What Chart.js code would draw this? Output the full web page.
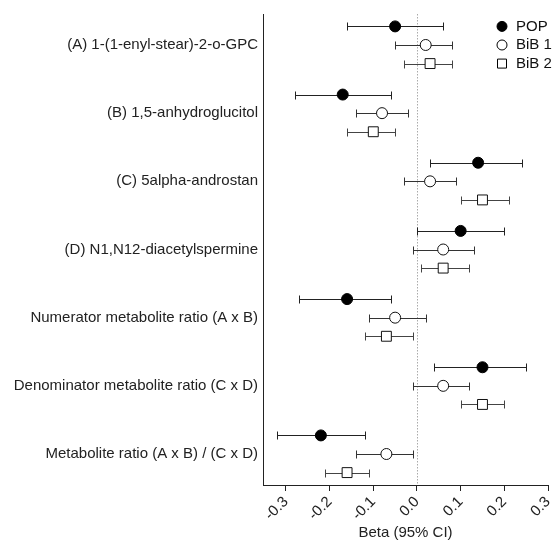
<!DOCTYPE html>
<html>
<head>
<meta charset="utf-8">
<script src="https://cdn.jsdelivr.net/npm/chart.js@4.4.0/dist/chart.umd.min.js"></script>
<style>
  body { margin: 0; background: #fff; }
</style>
</head>
<body>
<canvas id="myChart" width="557" height="545"></canvas>
<script>
var categories = [
  '(A) 1-(1-enyl-stear)-2-o-GPC',
  '(B) 1,5-anhydroglucitol',
  '(C) 5alpha-androstan',
  '(D) N1,N12-diacetylspermine',
  'Numerator metabolite ratio (A x B)',
  'Denominator metabolite ratio (C x D)',
  'Metabolite ratio (A x B) / (C x D)'
]
var cohorts = ['POP', 'BiB 1', 'BiB 2']

var popBeta = [-0.05, -0.17, 0.14, 0.10, -0.16, 0.15, -0.22]
var popLow  = [-0.16, -0.28, 0.03, 0.00, -0.27, 0.04, -0.32]
var popHigh = [0.06, -0.06, 0.24, 0.20, -0.06, 0.25, -0.12]

var bib1Beta = [0.02, -0.08, 0.03, 0.06, -0.05, 0.06, -0.07]
var bib1Low  = [-0.05, -0.14, -0.03, -0.01, -0.11, -0.01, -0.14]
var bib1High = [0.08, -0.02, 0.09, 0.13, 0.02, 0.12, -0.01]

var bib2Beta = [0.03, -0.10, 0.15, 0.06, -0.07, 0.15, -0.16]
var bib2Low  = [-0.03, -0.16, 0.10, 0.01, -0.12, 0.10, -0.21]
var bib2High = [0.08, -0.05, 0.21, 0.12, -0.01, 0.20, -0.11]

var xTicks = [-0.3, -0.2, -0.1, 0.0, 0.1, 0.2, 0.3]

// rows: each category is a block of 11 units, cohorts sit at -3 / 0 / +3
var groupGap = 11
var rowOffset = [-3, 0, 3]

function rows(values, k){
  return values.map((v, i) => ({x: v, y: i * groupGap + rowOffset[k]}))
}

var font = "'Liberation Sans', Arial, sans-serif"
var ink = '#222'
var fontSize = 15

const errorBars = {
  id: 'errorBars',
  beforeDatasetsDraw(chart) {
    const ctx = chart.ctx
    const xs = chart.scales.x
    const area = chart.chartArea
    // dotted zero line
    ctx.save()
    const x0 = Math.round(xs.getPixelForValue(0)) + 0.5
    ctx.strokeStyle = '#aaa'
    ctx.lineWidth = 1
    ctx.setLineDash([1.5, 1.5])
    ctx.beginPath()
    ctx.moveTo(x0, area.top)
    ctx.lineTo(x0, area.bottom)
    ctx.stroke()
    ctx.restore()

    chart.data.datasets.forEach((ds, i) => {
      if (!ds.lo) return
      const meta = chart.getDatasetMeta(i)
      ctx.save()
      ctx.strokeStyle = ds.barColor
      ctx.lineWidth = 1
      meta.data.forEach((pt, j) => {
        const x1 = Math.round(xs.getPixelForValue(ds.lo[j])) + 0.5
        const x2 = Math.round(xs.getPixelForValue(ds.hi[j])) + 0.5
        const y = Math.round(pt.y) + 0.5
        ctx.beginPath()
        ctx.moveTo(x1, y); ctx.lineTo(x2, y)
        ctx.moveTo(x1, y - 4); ctx.lineTo(x1, y + 4)
        ctx.moveTo(x2, y - 4); ctx.lineTo(x2, y + 4)
        ctx.stroke()
      })
      ctx.restore()
    })
  }
}

const sideLegend = {
  id: 'sideLegend',
  afterDraw(chart) {
    const ctx = chart.ctx
    const ys = chart.scales.y
    ctx.save()
    ctx.font = fontSize + 'px ' + font
    ctx.textBaseline = 'middle'
    chart.data.datasets.forEach((ds, k) => {
      const y = ys.getPixelForValue(rowOffset[k])
      const x = 502
      ctx.lineWidth = 1
      ctx.strokeStyle = '#000'
      ctx.fillStyle = ds.backgroundColor
      ctx.beginPath()
      if (ds.pointStyle == 'rect') {
        ctx.rect(x - 4.5, y - 4.5, 9, 9)
      } else {
        ctx.arc(x, y, 5, 0, Math.PI * 2)
      }
      ctx.fill()
      ctx.stroke()
      ctx.fillStyle = '#111'
      ctx.fillText(ds.label, 516, y)
    })
    ctx.restore()
  }
}

var ctx = document.getElementById('myChart').getContext('2d')
var myChart = new Chart(ctx, {
  type: 'scatter',
  data: {
    datasets: [
      {
        label: cohorts[0],
        data: rows(popBeta, 0),
        lo: popLow, hi: popHigh,
        barColor: '#222',
        pointStyle: 'circle',
        pointRadius: 5.5,
        backgroundColor: '#000',
        borderColor: '#000',
        borderWidth: 1
      },
      {
        label: cohorts[1],
        data: rows(bib1Beta, 1),
        lo: bib1Low, hi: bib1High,
        barColor: '#333',
        pointStyle: 'circle',
        pointRadius: 5.5,
        backgroundColor: '#fff',
        borderColor: '#111',
        borderWidth: 1
      },
      {
        label: cohorts[2],
        data: rows(bib2Beta, 2),
        lo: bib2Low, hi: bib2High,
        barColor: '#444',
        pointStyle: 'rect',
        pointRadius: 7,
        backgroundColor: '#fff',
        borderColor: '#111',
        borderWidth: 1
      }
    ]
  },
  options: {
    responsive: false,
    animation: false,
    layout: { padding: { top: 13, right: 9, bottom: 0, left: 0 } },
    plugins: {
      legend: { display: false },
      tooltip: { enabled: false }
    },
    scales: {
      x: {
        type: 'linear',
        min: -0.3525,
        max: 0.3,
        afterBuildTicks: (scale) => { scale.ticks = xTicks.map(v => ({value: v})) },
        afterFit: (scale) => {
          scale.height = 60
          scale.paddingRight = 0
          scale.paddingLeft = 0
        },
        grid: { drawOnChartArea: false, drawTicks: true, tickLength: 6, color: ink },
        border: { display: true, color: ink, width: 1 },
        ticks: {
          minRotation: 45, maxRotation: 45, padding: 2,
          color: ink, font: { family: font, size: fontSize },
          callback: (v) => Number(v).toFixed(1)
        },
        title: {
          display: true, text: 'Beta (95% CI)', color: ink,
          font: { family: font, size: fontSize },
          padding: { top: 0, bottom: 3 }
        }
      },
      y: {
        type: 'linear',
        reverse: true,
        min: -5,
        max: 71,
        afterBuildTicks: (scale) => { scale.ticks = categories.map((c, i) => ({value: i * groupGap})) },
        afterFit: (scale) => { scale.width = 263 },
        grid: { display: false, drawTicks: false },
        border: { display: true, color: ink, width: 1 },
        ticks: {
          autoSkip: false, padding: 5,
          color: ink, font: { family: font, size: fontSize },
          callback: (v, i) => categories[i]
        }
      }
    }
  },
  plugins: [errorBars, sideLegend]
})
</script>
</body>
</html>
